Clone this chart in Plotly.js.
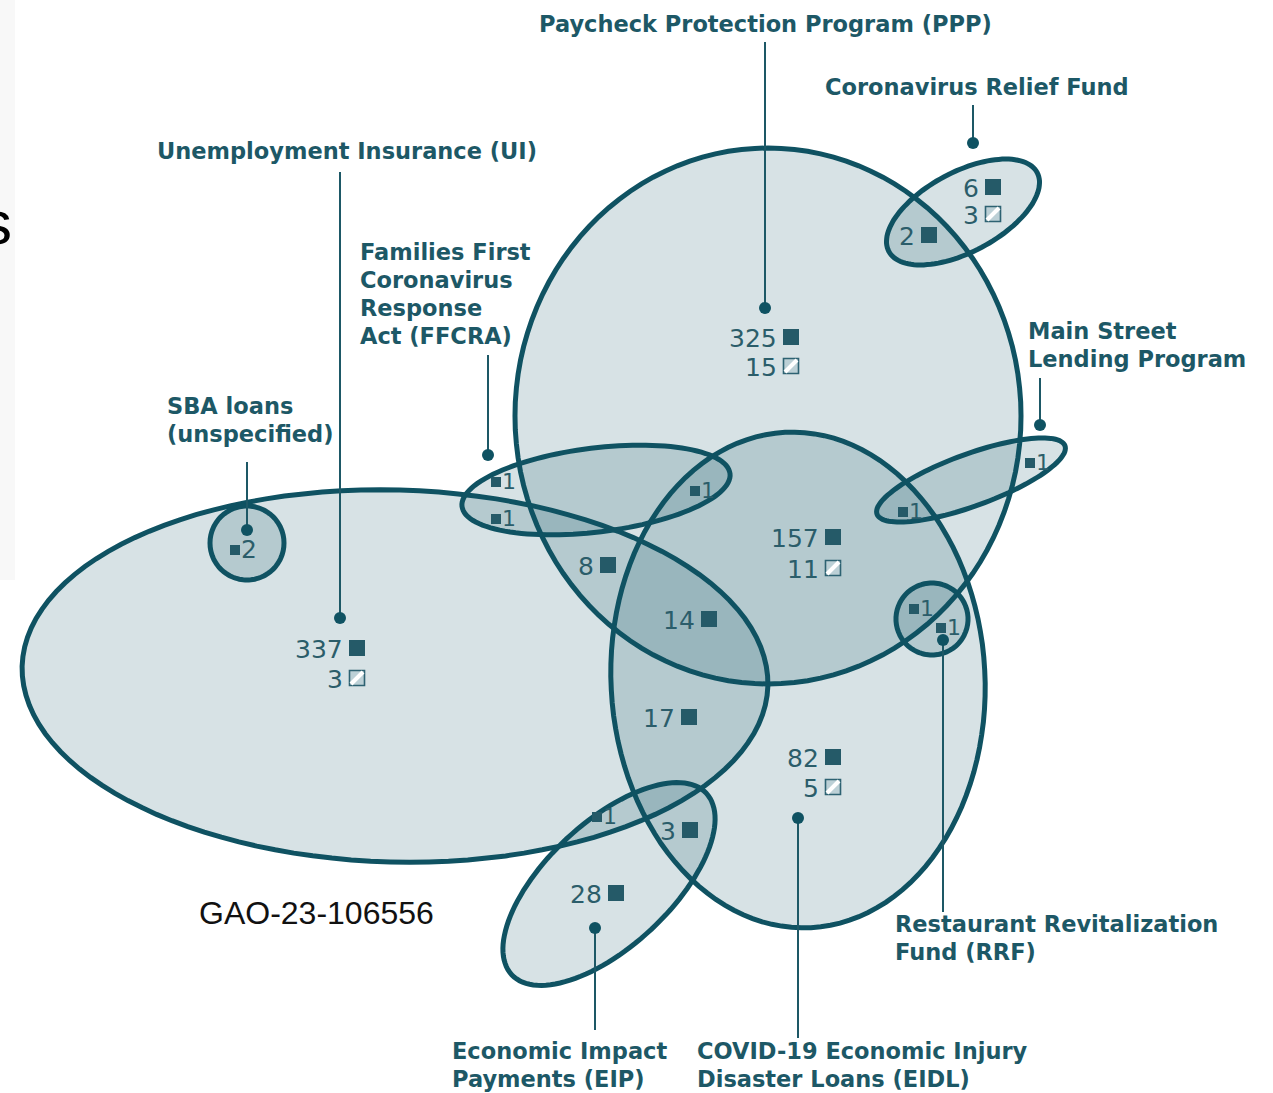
<!DOCTYPE html>
<html><head><meta charset="utf-8">
<script src="https://cdn.plot.ly/plotly-3.0.1.min.js"></script>
<style>html,body{margin:0;padding:0;background:#fff;overflow:hidden}#chart{width:1273px;height:1093px}</style>
</head><body><div id="chart"></div>
<script>
// ---------- DATA ----------
const programLabels = [
  'Unemployment Insurance (UI)',
  'Paycheck Protection Program (PPP)',
  'COVID-19 Economic Injury<br>Disaster Loans (EIDL)',
  'Families First<br>Coronavirus<br>Response<br>Act (FFCRA)',
  'Coronavirus Relief Fund',
  'Main Street<br>Lending Program',
  'Economic Impact<br>Payments (EIP)',
  'SBA loans<br>(unspecified)',
  'Restaurant Revitalization<br>Fund (RRF)'
];
const regionNames = ['PPP','PPP+EIDL','EIDL','UI','CRF','CRF+PPP','UI+PPP','UI+PPP+EIDL','UI+EIDL','EIP+EIDL','EIP',
  'FFCRA','FFCRA+UI','FFCRA+PPP+EIDL','SBA+UI','MSL','MSL+PPP+EIDL','RRF+PPP+EIDL','RRF+EIDL','EIP+UI'];
const filledCounts  = [325,157,82,337,6,2,8,14,17,3,28, 1,1,1,2,1,1,1,1,1];
const hatchedCounts = [15,11,5,3,3,null,null,null,null,null,null, null,null,null,null,null,null,null,null,null];
const sourceNote = 'GAO-23-106556';

// ---------- LAYOUT (positions / styles) ----------
// ellipses: cx, cy, rx, ry, rotation (deg)
const ellipseGeom = [
  [395, 676, 373, 186, 1.5],   // UI
  [768, 416, 253, 268, 0],     // PPP
  [798, 680, 187, 248, -3],    // EIDL
  [596, 490, 135, 42, -7],     // FFCRA
  [963, 212, 84, 40, -28],     // CRF
  [971, 480, 100, 26, -20],    // MSL
  [609, 884, 133, 62, -43],    // EIP
  [247, 543, 37, 37, 0],       // SBA
  [932, 619, 36, 36, 0]        // RRF
];
// x of text left edge, y of first line centre
const labelPos = [[155,151],[537,24],[695,1051],[358,252],[823,87],[1026,331],[450,1051],[165,406],[893,924]];
const LINE_GAP = 28;
const leaderLines = [[340,172,340,618],[765,42,765,308],[798,1038,798,818],[488,355,488,455],[973,105,973,143],[1040,378,1040,425],[595,1030,595,928],[247,462,247,530],[943,912,943,640]];
const regionSqX = [791,833,833,357,993,929,608,709,689,690,616, 496,496,695,235,1030,903,914,941,597];
const regionSqY = [337,537,757,648,187,235,565,619,717,830,893, 482,519,491,550,463,512,609,628,817];
const regionHatchY = [366,568,787,678,214,null,null,null,null,null,null, null,null,null,null,null,null,null,null,null];
const regionBig = [1,1,1,1,1,1,1,1,1,1,1, 0,0,0,0,0,0,0,0,0];

const OUT = '#0f5262', FILL = 'rgba(20,85,100,0.17)', TXT = '#1d5866', NUM = '#2b5d6a', SQ = '#255a68';
const LFONT = 'DejaVu Sans, sans-serif';

function ellipsePath(g) {
  const [cx, cy, rx, ry, deg] = g; const t = deg * Math.PI / 180; let p = '';
  for (let i = 0; i < 120; i++) {
    const a = 2 * Math.PI * i / 120;
    const x = rx * Math.cos(a), y = ry * Math.sin(a);
    const X = cx + x * Math.cos(t) - y * Math.sin(t), Y = cy + x * Math.sin(t) + y * Math.cos(t);
    p += (i ? 'L' : 'M') + X.toFixed(1) + ',' + Y.toFixed(1);
  }
  return p + 'Z';
}

const shapes = [];
shapes.push({type:'rect', xref:'x', yref:'y', x0:0, x1:15, y0:0, y1:580, fillcolor:'#f8f8f8', line:{width:0}, layer:'below'});
ellipseGeom.forEach(g => shapes.push({type:'path', path:ellipsePath(g), fillcolor:FILL, line:{width:0}, layer:'below'}));
ellipseGeom.forEach(g => shapes.push({type:'path', path:ellipsePath(g), fillcolor:'rgba(0,0,0,0)', line:{color:OUT, width:5}, layer:'below'}));

const traces = [];
leaderLines.forEach(l => {
  traces.push({x:[l[0],l[2]], y:[l[1],l[3]], mode:'lines', line:{color:TXT, width:2}, hoverinfo:'skip', showlegend:false});
});
traces.push({x:leaderLines.map(l=>l[2]), y:leaderLines.map(l=>l[3]), mode:'markers', marker:{color:OUT, size:12, opacity:1}, hoverinfo:'skip', showlegend:false});

traces.push({x:regionSqX, y:regionSqY, mode:'markers', hoverinfo:'skip', showlegend:false,
  marker:{symbol:'square', color:SQ, opacity:1, size:regionBig.map(b=>b?16:10), line:{width:0}}});
const hx = [], hy = [];
hatchedCounts.forEach((v,i)=>{ if(v!=null){ hx.push(regionSqX[i]); hy.push(regionHatchY[i]); } });
traces.push({x:hx, y:hy, mode:'markers', hoverinfo:'skip', showlegend:false,
  marker:{symbol:'square', color:'#bcd0d6', opacity:1, size:15, line:{color:'#2d6272', width:1.6}}});
traces.push({x:hx, y:hy, mode:'markers', hoverinfo:'skip', showlegend:false,
  marker:{symbol:'line-ne', size:12, opacity:1, line:{color:'#ffffff', width:4}}});

const annotations = [];
programLabels.forEach((t,i)=>{
  t.split('<br>').forEach((line,k)=>annotations.push({x:labelPos[i][0], y:labelPos[i][1]+k*LINE_GAP, xref:'x', yref:'y', text:line,
    showarrow:false, xanchor:'left', yanchor:'middle', align:'left', font:{family:LFONT, size:22.5, color:TXT, weight:'bold'}}));
});
filledCounts.forEach((v,i)=>{
  if (regionBig[i]) {
    annotations.push({x:regionSqX[i]-12, y:regionSqY[i]+1, xref:'x', yref:'y', text:String(v), showarrow:false,
      xanchor:'right', yanchor:'middle', font:{family:LFONT, size:25, color:NUM}});
    if (hatchedCounts[i]!=null) annotations.push({x:regionSqX[i]-12, y:regionHatchY[i]+1, xref:'x', yref:'y', text:String(hatchedCounts[i]),
      showarrow:false, xanchor:'right', yanchor:'middle', font:{family:LFONT, size:25, color:NUM}});
  } else {
    annotations.push({x:regionSqX[i]+4, y:regionSqY[i]-1, xref:'x', yref:'y', text:String(v), showarrow:false,
      xanchor:'left', yanchor:'middle', font:{family:LFONT, size:(v>1?25:22), color:NUM}});
  }
});
annotations.push({x:197, y:913, xref:'x', yref:'y', text:sourceNote, showarrow:false, xanchor:'left', yanchor:'middle',
  font:{family:'Liberation Sans, Arial, sans-serif', size:32, color:'#111'}});
annotations.push({x:14, y:222, xref:'x', yref:'y', text:'s', showarrow:false, xanchor:'right', yanchor:'middle',
  font:{family:'Liberation Sans, Arial, sans-serif', size:62, color:'#000'}});

const layout = {
  width:1273, height:1093, margin:{l:0,r:0,t:0,b:0}, paper_bgcolor:'#fff', plot_bgcolor:'#fff',
  xaxis:{range:[0,1273], visible:false, fixedrange:true},
  yaxis:{range:[1093,0], visible:false, fixedrange:true},
  shapes, annotations, showlegend:false
};
Plotly.newPlot('chart', traces, layout, {displayModeBar:false, staticPlot:true});
</script></body></html>
